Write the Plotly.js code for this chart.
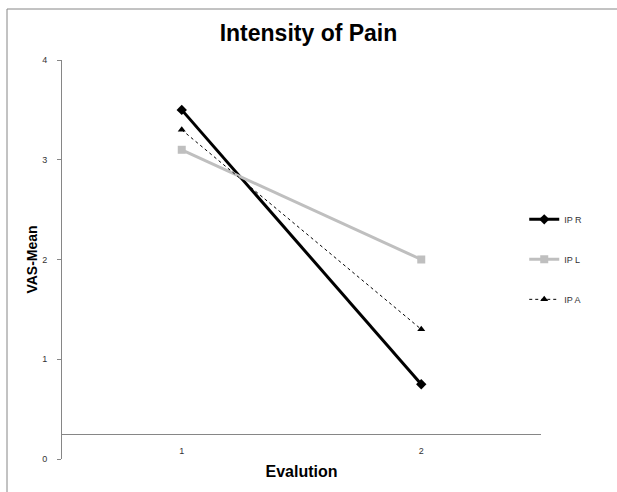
<!DOCTYPE html>
<html>
<head>
<meta charset="utf-8">
<script src="https://cdn.plot.ly/plotly-3.0.1.min.js"></script>
<style>
html,body{margin:0;padding:0;background:#fff;}
#chart{width:617px;height:492px;}
</style>
</head>
<body>
<div id="chart"></div>
<script>
const evaluations = [1, 2];
const ipR = [3.5, 0.75];
const ipL = [3.1, 2.0];
const ipA = [3.3, 1.3];
const seriesNames = ['IP R', 'IP L', 'IP A'];
const yTicks = [0, 1, 2, 3, 4];
const xTicks = [1, 2];

const traces = [
  {x: evaluations, y: ipR, name: seriesNames[0], mode: 'lines+markers', legendgroup: 'a',
   line: {color: '#000000', width: 3}, marker: {symbol: 'diamond', size: 8, color: '#000000'}},
  {x: evaluations, y: ipL, name: seriesNames[1], mode: 'lines+markers', legendgroup: 'b',
   line: {color: '#bfbfbf', width: 3}, marker: {symbol: 'square', size: 8, color: '#bfbfbf'}},
  {x: evaluations, y: ipA, name: seriesNames[2], mode: 'lines+markers', legendgroup: 'c',
   line: {color: '#000000', width: 1, dash: 'dot'}, marker: {symbol: 'triangle-up', size: 7, color: '#000000'}}
];

const layout = {
  width: 617, height: 492,
  margin: {l: 62, r: 76, t: 60, b: 33},
  paper_bgcolor: '#fff', plot_bgcolor: '#fff',
  font: {family: 'Liberation Sans, Arial, sans-serif', color: '#000'},
  title: {text: '<b>Intensity of Pain</b>', font: {size: 23, color: '#000'}, x: 0.5, xanchor: 'center', y: 0.933, yanchor: 'middle'},
  showlegend: true,
  legend: {x: 0.965, y: 0.637, xanchor: 'left', yanchor: 'top', font: {size: 9, color: '#333'},
           tracegroupgap: 21, itemwidth: 30, bgcolor: 'rgba(0,0,0,0)'},
  xaxis: {range: [0.5, 2.5], tickvals: xTicks, ticktext: xTicks.map(String), showgrid: false, zeroline: false,
          showline: true, linecolor: '#868686', linewidth: 1, ticks: '', anchor: 'free', position: 0.0625,
          ticklabelstandoff: 8,
          tickfont: {size: 9, color: '#333'},
          title: {text: '<b>Evalution</b>', font: {size: 16, color: '#000'}, standoff: 10}},
  yaxis: {range: [0, 4], tickvals: yTicks, showgrid: false, zeroline: false,
          showline: true, linecolor: '#868686', linewidth: 1, ticks: 'outside', ticklen: 4, tickcolor: '#868686',
          ticklabelstandoff: 8,
          tickfont: {size: 9, color: '#333'},
          title: {text: '<b>VAS-Mean</b>', font: {size: 14, color: '#000'}, standoff: 1}},
  shapes: [
    {type: 'line', xref: 'paper', yref: 'paper', x0: (7-62)/479, x1: (617-62)/479, y0: (459-9)/399, y1: (459-9)/399,
     line: {color: '#868686', width: 1}},
    {type: 'line', xref: 'paper', yref: 'paper', x0: (7-62)/479, x1: (7-62)/479, y0: (459-9)/399, y1: (459-492)/399,
     line: {color: '#868686', width: 1}}
  ]
};

Plotly.newPlot('chart', traces, layout, {displayModeBar: false, staticPlot: true});
</script>
</body>
</html>
